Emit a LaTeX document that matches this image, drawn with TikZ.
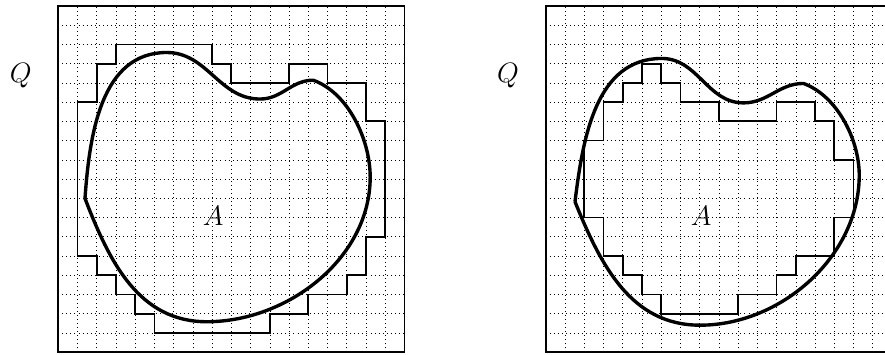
\documentclass[tikz,border=0pt]{standalone}
\usepackage{amssymb,amsmath}
\usepackage{tikz}

\begin{document}
\begin{tikzpicture}[x=0.5cm, y=0.5cm,
  gridline/.style={line width=0.4pt, dash pattern=on 0.6pt off 2.4pt},
  box/.style={line width=1.3pt},
  stairs/.style={line width=1.3pt},
  blob/.style={line width=2.5pt, line join=round},
  lab/.style={font=\huge}]
\clip (-3.03,-0.1) rectangle (42.99,18.31);

% left: outer staircase
\draw[gridline, step=0.5cm] (0,0) grid (18,18);
\draw[box] (0,0) rectangle (18,18);
\draw[stairs] (1,5) -- (1,13) -- (2,13) -- (2,15) -- (3,15) -- (3,16) -- (8,16) -- (8,15) -- (9,15) -- (9,14)
  -- (12,14) -- (12,15) -- (14,15) -- (14,14) -- (16,14) -- (16,12) -- (17,12) -- (17,6) -- (16,6) -- (16,4)
  -- (15,4) -- (15,3) -- (13,3) -- (13,2) -- (11,2) -- (11,1) -- (5,1) -- (5,2) -- (4,2) -- (4,3) -- (3,3)
  -- (3,4) -- (2,4) -- (2,5) -- cycle;
\draw[blob] (1.39,7.99) to[out=86,in=180] (5.64,15.58) to[out=0,in=180] (10.49,13.16)
  to[out=0,in=180] (13.26,14.14) to[out=-20,in=90,looseness=0.85] (16.22,9.1)
  to[out=-90,in=0,looseness=0.95] (7.72,1.58) to[out=180,in=-69] (1.39,7.99);
\node[lab] (q1) at (-1.95,14.4) {$Q$};
\node[lab] (a1) at (8.05,7.1) {$A$};

% right: inner staircase
\begin{scope}[shift={(25.35,0)}]
\draw[gridline, step=0.5cm] (0,0) grid (18,18);
\draw[box] (0,0) rectangle (18,18);
\draw[stairs] (2,7) -- (2,11) -- (3,11) -- (3,13) -- (4,13) -- (4,14) -- (5,14) -- (5,15) -- (6,15) -- (6,14)
  -- (7,14) -- (7,13) -- (9,13) -- (9,12) -- (12,12) -- (12,13) -- (14,13) -- (14,12) -- (15,12) -- (15,10)
  -- (16,10) -- (16,7) -- (15,7) -- (15,5) -- (13,5) -- (13,4) -- (12,4) -- (12,3) -- (10,3) -- (10,2)
  -- (6,2) -- (6,3) -- (5,3) -- (5,4) -- (4,4) -- (4,5) -- (3,5) -- (3,7) -- cycle;
\draw[blob] (1.52,7.82) to[out=83,in=180] (6.03,15.27) to[out=0,in=180] (10.28,12.96)
  to[out=0,in=180] (13.4,13.97) to[out=-20,in=90,looseness=0.85] (16.3,9.2)
  to[out=-90,in=0,looseness=0.95] (8.02,1.4) to[out=180,in=-68] (1.52,7.82);
\node[lab] (q2) at (-1.96,14.4) {$Q$};
\node[lab] (a2) at (8.08,7.1) {$A$};
\end{scope}
\end{tikzpicture}
\end{document}
